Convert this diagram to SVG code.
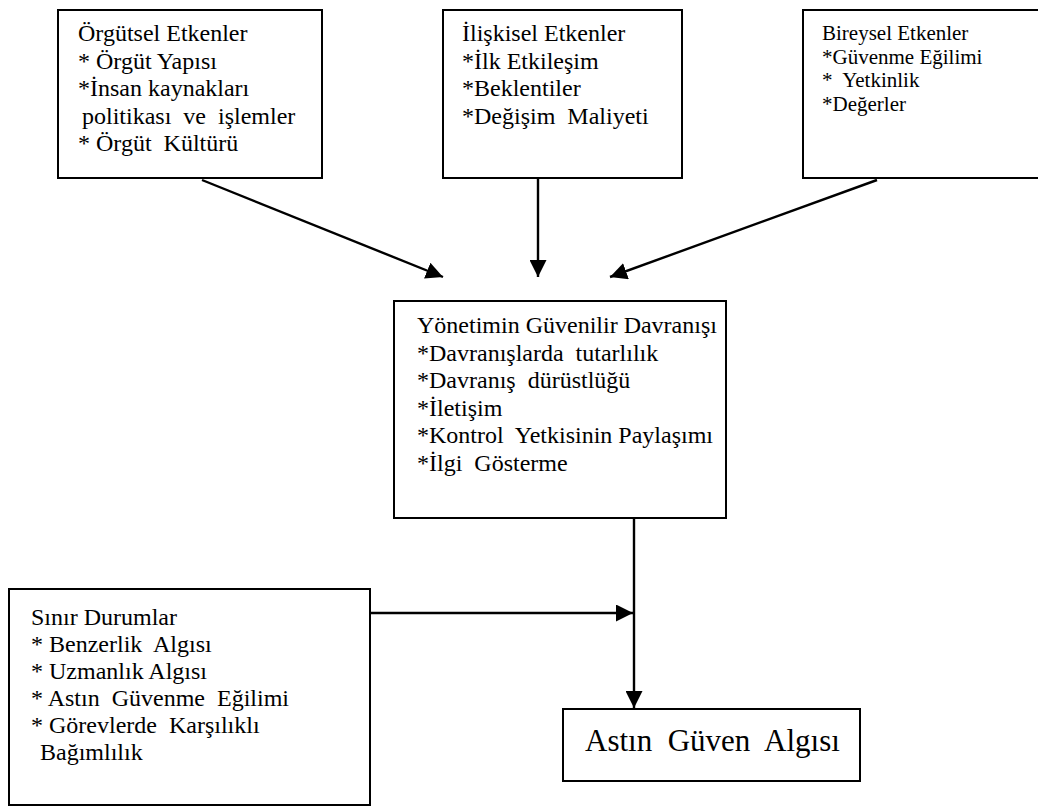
<svg xmlns="http://www.w3.org/2000/svg" width="1038" height="806" viewBox="0 0 1038 806" font-family="'Liberation Serif', 'Times New Roman', 'DejaVu Serif', serif">
<style>
rect{fill:#fff;stroke:#000;stroke-width:2}
text{font-family:'Liberation Serif','Times New Roman','DejaVu Serif',serif;fill:#000;white-space:pre}
.f24{font-size:24px}
.f21{font-size:21px}
.f31{font-size:31px}
.c{stroke:#000;stroke-width:2.4;fill:none}
</style>
<defs>
<marker id="ah" viewBox="0 0 17 17" refX="17" refY="8.5" markerWidth="17" markerHeight="17" markerUnits="userSpaceOnUse" orient="auto">
<path d="M0,0 L17,8.5 L0,17 z" fill="#000"/>
</marker>
</defs>
<rect width="1038" height="806" style="fill:#fff;stroke:none"/>
<g id="orgutsel">
<rect x="58" y="10" width="264" height="168"/>
<text class="f24" x="78" y="41">Örgütsel Etkenler</text>
<text class="f24" x="78" y="68.5">* Örgüt Yapısı</text>
<text class="f24" x="78" y="96">*İnsan kaynakları</text>
<text class="f24" x="82" y="123.5">politikası  ve  işlemler</text>
<text class="f24" x="78" y="151">* Örgüt  Kültürü</text>
</g>
<g id="iliskisel">
<rect x="443" y="10" width="239" height="168"/>
<text class="f24" x="462" y="41">İlişkisel Etkenler</text>
<text class="f24" x="462" y="68.5">*İlk Etkileşim</text>
<text class="f24" x="462" y="96">*Beklentiler</text>
<text class="f24" x="462" y="123.5">*Değişim  Maliyeti</text>
</g>
<g id="bireysel">
<rect x="803" y="10" width="240" height="168"/>
<text class="f21" x="822" y="40">Bireysel Etkenler</text>
<text class="f21" x="822" y="63.5">*Güvenme Eğilimi</text>
<text class="f21" x="822" y="87">*  Yetkinlik</text>
<text class="f21" x="822" y="110.5">*Değerler</text>
</g>
<g id="yonetim">
<rect x="394" y="301" width="332" height="217"/>
<text class="f24" x="417" y="333">Yönetimin Güvenilir Davranışı</text>
<text class="f24" x="417" y="360.5">*Davranışlarda  tutarlılık</text>
<text class="f24" x="417" y="388">*Davranış  dürüstlüğü</text>
<text class="f24" x="417" y="415.5">*İletişim</text>
<text class="f24" x="417" y="443">*Kontrol  Yetkisinin Paylaşımı</text>
<text class="f24" x="417" y="470.5">*İlgi  Gösterme</text>
</g>
<g id="sinir">
<rect x="9" y="589" width="361" height="216"/>
<text class="f24" x="31" y="625">Sınır Durumlar</text>
<text class="f24" x="31" y="652">* Benzerlik  Algısı</text>
<text class="f24" x="31" y="679">* Uzmanlık Algısı</text>
<text class="f24" x="31" y="706">* Astın  Güvenme  Eğilimi</text>
<text class="f24" x="31" y="733">* Görevlerde  Karşılıklı</text>
<text class="f24" x="40" y="760">Bağımlılık</text>
</g>
<g id="astin">
<rect x="563" y="709" width="297" height="72"/>
<text class="f31" x="585" y="751">Astın  Güven  Algısı</text>
</g>
<g id="connectors">
<line class="c" x1="202" y1="180" x2="443" y2="277" marker-end="url(#ah)"/>
<line class="c" x1="538" y1="178" x2="538" y2="277" marker-end="url(#ah)"/>
<line class="c" x1="877" y1="180" x2="610" y2="277" marker-end="url(#ah)"/>
<line class="c" x1="634" y1="518" x2="634" y2="708" marker-end="url(#ah)"/>
<line class="c" x1="370" y1="613" x2="633" y2="613" marker-end="url(#ah)"/>
</g>
</svg>
